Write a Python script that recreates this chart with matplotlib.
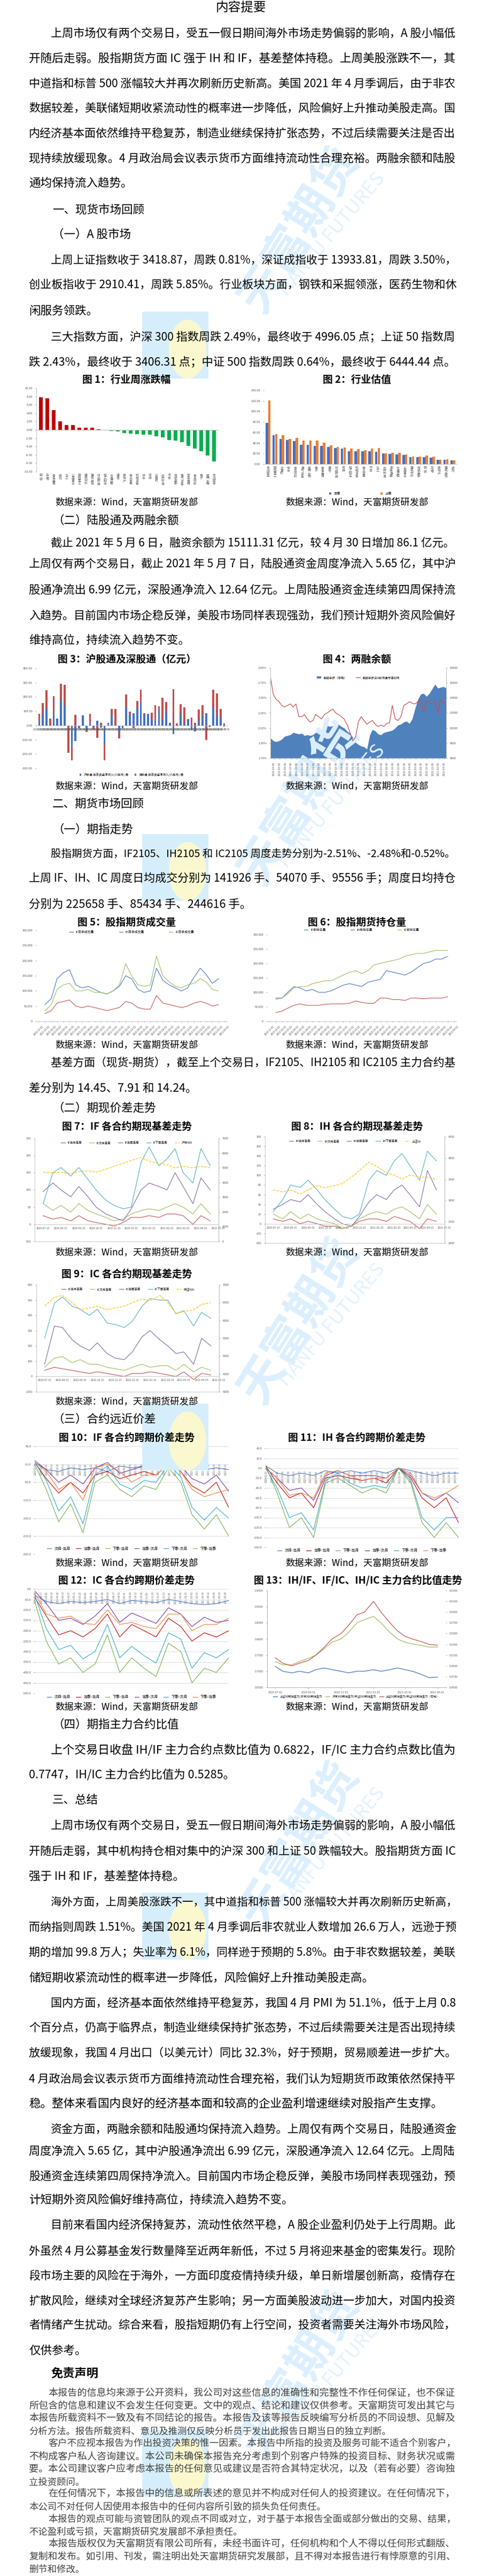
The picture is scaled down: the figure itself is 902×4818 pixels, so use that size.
import numpy as np
import pandas as pd
import matplotlib
matplotlib.use("Agg")
import matplotlib.pyplot as plt
import matplotlib.dates as mdates
from matplotlib.patches import Rectangle, Ellipse

plt.rcParams['font.family'] = ['Noto Sans CJK SC', 'DejaVu Sans']
plt.rcParams['axes.unicode_minus'] = False

W, H = 902, 4818
fig = plt.figure(figsize=(W / 100, H / 100), dpi=100)
fig.patch.set_facecolor('white')

# ---------------- data ----------------
ind1 = ['钢铁', '采掘', '有色金属', '银行', '化工', '公用事业', '国防军工', '建筑材料', '建筑装饰', '纺织服装',
        '轻工制造', '交通运输', '通信', '房地产', '商业贸易', '机械设备', '综合', '传媒', '计算机', '农林牧渔',
        '汽车', '非银金融', '电气设备', '家用电器', '食品饮料', '电子', '医药生物', '休闲服务']
chg1 = [7.8, 7.5, 4.7, 2.1, 1.2, 1.2, 0.5, 0.5, 0.5, 0.15, 0.0, -0.2, -0.4, -0.8, -0.9, -1.0, -1.1, -1.2,
        -1.6, -1.8, -2.4, -2.6, -3.0, -3.8, -4.5, -5.1, -6.1, -7.6]

ind2 = ['休闲服务', '国防军工', '计算机', '综合', '食品饮料', '电气设备', '医药生物', '电子', '有色金属', '通信',
        '纺织服装', '传媒', '轻工制造', '机械设备', '商业贸易', '汽车', '化工', '农林牧渔', '家用电器', '交通运输',
        '公用事业', '建筑材料', '非银金融', '钢铁', '采掘', '房地产', '建筑装饰', '银行']
pe_now = [78, 55, 48, 46, 44, 37, 37, 35, 34, 32, 30, 29, 24, 24, 24, 24, 23, 20, 19, 18, 17, 13, 13, 13, 12, 8, 8, 7]
pe_last = [121, 57, 55, 48, 50, 45, 45, 45, 41, 36, 32, 31, 29, 28, 26, 29, 30, 20, 21, 21, 18, 14, 14, 16, 14, 8, 9, 7]

hk_dates = ['2020-05-15', '2020-05-22', '2020-05-29', '2020-06-05', '2020-06-12', '2020-06-19', '2020-06-24',
            '2020-07-03', '2020-07-10', '2020-07-17', '2020-07-24', '2020-07-31', '2020-08-07', '2020-08-14',
            '2020-08-21', '2020-08-28', '2020-09-04', '2020-09-11', '2020-09-18', '2020-09-25', '2020-09-30',
            '2020-10-16', '2020-10-23', '2020-10-30', '2020-11-06', '2020-11-13', '2020-11-20', '2020-11-27',
            '2020-12-04', '2020-12-11', '2020-12-18', '2020-12-25', '2020-12-31', '2021-01-08', '2021-01-15',
            '2021-01-22', '2021-01-29', '2021-02-05', '2021-02-10', '2021-02-19', '2021-02-26', '2021-03-05',
            '2021-03-12', '2021-03-19', '2021-03-26', '2021-04-02', '2021-04-09', '2021-04-16', '2021-04-23',
            '2021-04-30', '2021-05-07', '2021-05-08']
hgt_flow = [30, 80, 120, 0, 90, 50, 180, 140, -5, -150, -110, -20, 70, -30, 20, -10, 35, -15, -130, 20,
            75, 5, -50, -20, 130, 75, 85, 120, 165, 75, 80, 50, 30, 105, 45, 100, 20, -60, 0, 80,
            20, 45, -30, -40, 30, 65, 85, -10, 125, 65, 55, -7]
sgt_flow = [50, 75, 125, 50, 115, 0, 110, 145, -185, -95, 75, 0, 0, -15, 60, -15, -85, 20, -115, 0,
            40, 110, -40, 0, 85, 20, -20, 50, 85, 10, 0, 40, 110, 30, 150, 65, 0, 255, 15, 70,
            105, 0, 55, 20, 80, 75, -100, 5, 125, 160, 60, 13]

mg_dates = pd.date_range('2016-03-01', '2021-05-01', freq='MS')
mg_bal = [8700, 8300, 8200, 8300, 8500, 8900, 9000, 9100, 9400, 9300, 9200, 9300, 9000, 9100, 9000, 9100, 9400,
          9600, 9800, 10000, 10300, 10200, 10300, 10200, 10500, 10200, 10000, 9600, 9300, 8800, 8100, 7800,
          7600, 7500, 7200, 9100, 9800, 9600, 9200, 9100, 9400, 9500, 9600, 9700, 10000, 10400, 10500, 10800,
          10900, 10600, 11200, 12600, 13800, 14500, 14600, 14200, 14600, 15200, 15800, 15300, 15400, 15500, 15300,
          15200][:len(mg_dates)]
mg_ratio = [2.78, 2.55, 2.48, 2.45, 2.40, 2.38, 2.40, 2.42, 2.38, 2.42, 2.25, 2.25, 2.28, 2.22, 2.18, 2.20,
            2.28, 2.25, 2.22, 2.28, 2.30, 2.33, 2.35, 2.30, 2.28, 2.25, 2.22, 2.15, 2.05, 1.93, 1.98, 2.18,
            2.25, 2.20, 2.15, 2.18, 2.20, 2.15, 2.12, 2.14, 2.12, 2.16, 2.17, 2.40, 2.22, 2.20, 2.25, 2.40,
            2.42, 2.45, 2.43, 2.42, 2.45, 2.48, 2.30, 2.46, 2.44, 2.42, 2.46, 2.30, 2.48, 2.44, 2.40][:len(mg_dates)]

fut_dates = pd.date_range('2019-01-01', periods=29, freq='MS')
if_vol = [55, 75, 140, 160, 170, 120, 110, 115, 105, 95, 90, 100, 115, 150, 140, 105, 95, 100, 175, 135, 120,
          110, 100, 110, 145, 175, 155, 125, 140]
ih_vol = [25, 35, 60, 65, 70, 50, 45, 50, 45, 40, 35, 40, 45, 65, 60, 45, 40, 40, 85, 60, 55, 50, 45, 50, 60,
          65, 60, 50, 55]
ic_vol = [35, 55, 105, 120, 125, 100, 100, 105, 95, 95, 90, 100, 120, 190, 150, 120, 115, 120, 215, 150, 130,
          115, 110, 120, 125, 140, 130, 105, 100]
if_oi = [80, 80, 100, 120, 115, 105, 110, 100, 100, 105, 115, 125, 130, 125, 120, 135, 140, 145, 175, 170, 165,
         160, 170, 185, 200, 205, 215, 215, 225]
ih_oi = [30, 35, 45, 55, 60, 55, 55, 55, 58, 60, 60, 60, 62, 70, 65, 62, 62, 80, 80, 75, 75, 72, 80, 80, 78,
         80, 80, 80, 85]
ic_oi = [75, 80, 95, 115, 120, 120, 130, 135, 140, 140, 150, 160, 170, 175, 165, 175, 195, 200, 205, 210, 215,
         225, 230, 235, 235, 240, 245, 245, 245]

b_dates = pd.date_range('2020-07-15', periods=20, freq='SMS-15')
if_b = [[25, 15, 20, 10, 25, 10, 5, 0, -5, 5, 20, 20, 25, 20, 30, 30, 25, 0, 25, 10],
        [60, 40, 55, 35, 60, 40, 30, 20, 10, 15, 30, 40, 45, 40, 50, 60, 50, 30, 60, 30],
        [95, 120, 100, 80, 110, 80, 50, 30, 20, 10, 45, 100, 120, 110, 100, 150, 110, 60, 135, 100],
        [60, 150, 165, 140, 165, 130, 100, 70, 55, 45, 50, 180, 225, 170, 190, 220, 150, 120, 220, 170]]
hs300 = [4700, 4650, 4700, 4600, 4750, 4800, 4700, 4900, 5100, 5300, 5500, 5700, 5450, 5300, 5200, 5000, 5100,
         5000, 5100, 5000]
ih_b = [[10, 5, 10, 0, 5, 0, -5, -5, -10, -5, 5, 10, 10, 5, 15, 10, 5, -10, 10, 5],
        [20, 10, 25, 10, 20, 10, 5, 0, -10, -5, 10, 20, 25, 20, 30, 35, 25, 10, 40, 20],
        [30, 40, 50, 45, 60, 40, 25, 10, 0, -5, 15, 45, 60, 50, 70, 80, 60, 35, 110, 70],
        [25, 50, 80, 75, 90, 70, 50, 30, 15, 10, 20, 90, 110, 100, 130, 145, 120, 90, 150, 130]]
sz50 = [3250, 3200, 3250, 3150, 3250, 3350, 3300, 3350, 3400, 3550, 3700, 3900, 3800, 3650, 3600, 3500, 3600,
        3550, 3550, 3500]
ic_b = [[40, 60, 50, 40, 30, 20, 30, 20, 10, 0, 20, 20, 30, 20, 10, 0, 30, -20, 20, 10],
        [60, 120, 130, 90, 110, 80, 80, 60, 50, 40, 60, 80, 60, 70, 70, 40, 80, 30, 60, 40],
        [80, 330, 320, 240, 200, 170, 220, 150, 120, 110, 160, 260, 300, 240, 200, 150, 160, 80, 250, 200],
        [250, 480, 520, 460, 440, 400, 440, 350, 340, 320, 360, 460, 510, 500, 500, 410, 430, 330, 420, 380]]
zz500 = [6400, 6650, 6700, 6500, 6300, 6350, 6400, 6300, 6350, 6400, 6500, 6600, 6550, 6700, 6500, 6200, 6250,
         6300, 6450, 6500]

s_dates = pd.date_range('2020-01-02', periods=17, freq='MS')
if_sp = [[-5, -25, -30, -20, -25, -20, -30, -15, -20, -15, -20, -10, -15, -20, -25, -20, -25],
         [-5, -50, -90, -60, -90, -40, -30, -50, -40, -30, -40, -10, -30, -70, -90, -60, -130],
         [-10, -80, -170, -120, -200, -60, -40, -80, -100, -70, -80, -20, -60, -150, -190, -150, -210],
         [0, -25, -60, -40, -65, -20, -5, -35, -25, -15, -20, 0, -15, -50, -65, -40, -85],
         [-5, -55, -140, -100, -175, -40, -15, -65, -80, -55, -60, -10, -45, -130, -165, -130, -160],
         [-5, -30, -80, -60, -110, -20, -10, -30, -60, -40, -40, -10, -30, -80, -100, -90, -80]]
ih_sp = [[5, -10, -15, -10, -15, -5, -10, -5, -10, -5, -10, 0, -5, -10, -15, -10, -10],
         [5, -30, -60, -50, -80, -20, -15, -20, -25, -20, -30, 0, -20, -60, -80, -60, -110],
         [5, -50, -120, -100, -140, -30, -20, -35, -50, -40, -50, 0, -30, -110, -140, -110, -140],
         [0, -20, -45, -40, -65, -15, -5, -15, -15, -15, -20, 0, -15, -50, -65, -50, -70],
         [0, -40, -100, -90, -125, -25, -10, -30, -40, -35, -40, 0, -25, -100, -125, -100, -100],
         [0, -20, -55, -50, -60, -10, -5, -15, -25, -20, -20, 0, -10, -50, -60, -50, -35]]
ic_sp = [[-30, -60, -70, -60, -65, -60, -50, -70, -55, -60, -65, -50, -60, -70, -75, -70, -55],
         [-40, -130, -220, -200, -230, -190, -120, -230, -170, -200, -230, -140, -180, -250, -210, -230, -200],
         [-60, -250, -360, -330, -400, -360, -220, -400, -330, -380, -420, -260, -300, -450, -380, -400, -330],
         [-10, -70, -150, -140, -170, -130, -70, -160, -115, -140, -165, -90, -120, -180, -135, -160, -150],
         [-30, -190, -290, -270, -335, -300, -170, -330, -275, -320, -355, -210, -240, -380, -305, -330, -290],
         [-20, -120, -140, -130, -165, -170, -100, -170, -160, -180, -190, -120, -120, -200, -170, -170, -140]]

r_dates = pd.date_range('2020-07-01', periods=21, freq='SMS')
ih_if = [0.715, 0.70, 0.695, 0.70, 0.695, 0.705, 0.71, 0.705, 0.70, 0.695, 0.70, 0.70, 0.705, 0.70, 0.705,
         0.71, 0.705, 0.70, 0.69, 0.68, 0.682]
if_ic = [0.73, 0.72, 0.72, 0.73, 0.74, 0.75, 0.77, 0.79, 0.80, 0.82, 0.85, 0.86, 0.87, 0.85, 0.82, 0.80, 0.79,
         0.785, 0.78, 0.775, 0.775]
ih_ic = [0.505, 0.495, 0.49, 0.495, 0.50, 0.51, 0.525, 0.54, 0.55, 0.565, 0.585, 0.59, 0.61, 0.59, 0.57,
         0.555, 0.545, 0.54, 0.535, 0.53, 0.5285]

# ---------------- helpers ----------------
GREY = '#595959'


def AX(x0, y0, x1, y1):
    return fig.add_axes([x0 / W, 1 - y1 / H, (x1 - x0) / W, (y1 - y0) / H])


def style(ax, fs=4.5):
    ax.tick_params(labelsize=fs, colors=GREY, length=1.5, width=0.4)
    for s in ['top', 'right']:
        ax.spines[s].set_visible(False)
    for s in ['left', 'bottom']:
        ax.spines[s].set_color('#bfbfbf')
        ax.spines[s].set_linewidth(0.6)


def T(x, y, s, size=15.5, **kw):
    kw.setdefault('va', 'center')
    return fig.text(x / W, 1 - y / H, s, fontsize=size, **kw)


def title(x, y, s):
    T(x, y, s, 13.5, ha='center', fontweight='bold')


def source(x, y):
    T(x, y, '数据来源：Wind，天富期货研发部', 12.5, ha='center')


# watermarks
for (wx, wy) in [(560, 430), (560, 1500), (560, 2470), (560, 3450), (560, 4440)]:
    T(wx, wy, '天富期货', 62, ha='center', color='#dcefff', rotation=58, zorder=0, fontweight='bold')
    T(wx + 60, wy + 10, 'TIANFU FUTURES', 26, ha='center', color='#e3f2ff', rotation=50, zorder=0)
for (lx, ly) in [(266, 583), (266, 1560), (266, 2625), (266, 3540), (266, 4545)]:
    fig.patches.append(Rectangle((lx / W, 1 - (ly + 125) / H), 124 / W, 125 / H, transform=fig.transFigure,
                                 facecolor='#d6eefc', edgecolor='none', zorder=0))
    fig.patches.append(Ellipse(((lx + 85) / W, 1 - (ly + 70) / H), 70 / W, 110 / H, transform=fig.transFigure,
                               facecolor='#fbf8cf', edgecolor='none', zorder=0))

# ---------------- text ----------------
justify = []


def para(lines, ys, indent=95, left=54, size=15.5, color='black'):
    for i, (s, y) in enumerate(zip(lines, ys)):
        t = T(indent if i == 0 else left, y, s, size, color=color)
        if i < len(lines) - 1:
            justify.append((t, indent if i == 0 else left))


T(451, 15, '内容提要', 17, ha='center')
para(['上周市场仅有两个交易日，受五一假日期间海外市场走势偏弱的影响，A 股小幅低',
      '开随后走弱。股指期货方面 IC 强于 IH 和 IF，基差整体持稳。上周美股涨跌不一，其',
      '中道指和标普 500 涨幅较大并再次刷新历史新高。美国 2021 年 4 月季调后，由于非农',
      '数据较差，美联储短期收紧流动性的概率进一步降低，风险偏好上升推动美股走高。国',
      '内经济基本面依然维持平稳复苏，制造业继续保持扩张态势，不过后续需要关注是否出',
      '现持续放缓现象。4 月政治局会议表示货币方面维持流动性合理充裕。两融余额和陆股',
      '通均保持流入趋势。'], [63, 110, 157, 203, 250, 296, 343])
T(98, 392, '一、现货市场回顾', 15.5)
T(98, 439, '（一）A 股市场', 15.5)
para(['上周上证指数收于 3418.87，周跌 0.81%，深证成指收于 13933.81，周跌 3.50%，',
      '创业板指收于 2910.41，周跌 5.85%。行业板块方面，钢铁和采掘领涨，医药生物和休',
      '闲服务领跌。'], [487, 534, 582])
para(['三大指数方面，沪深 300 指数周跌 2.49%，最终收于 4996.05 点；上证 50 指数周',
      '跌 2.43%，最终收于 3406.31 点；中证 500 指数周跌 0.64%，最终收于 6444.44 点。'], [630, 677])
justify.append((fig.texts[-1], 54))
T(98, 974, '（二）陆股通及两融余额', 15.5)
para(['截止 2021 年 5 月 6 日，融资余额为 15111.31 亿元，较 4 月 30 日增加 86.1 亿元。',
      '上周仅有两个交易日，截止 2021 年 5 月 7 日，陆股通资金周度净流入 5.65 亿，其中沪',
      '股通净流出 6.99 亿元，深股通净流入 12.64 亿元。上周陆股通资金连续第四周保持流',
      '入趋势。目前国内市场企稳反弹，美股市场同样表现强劲，我们预计短期外资风险偏好',
      '维持高位，持续流入趋势不变。'], [1017, 1056, 1104, 1151, 1198])
T(98, 1504, '二、期货市场回顾', 15.5)
T(98, 1552, '（一）期指走势', 15.5)
para(['股指期货方面，IF2105、IH2105 和 IC2105 周度走势分别为-2.51%、-2.48%和-0.52%。',
      '上周 IF、IH、IC 周度日均成交分别为 141926 手、54070 手、95556 手；周度日均持仓',
      '分别为 225658 手、85434 手、244616 手。'], [1597, 1643, 1692])
para(['基差方面（现货-期货），截至上个交易日，IF2105、IH2105 和 IC2105 主力合约基',
      '差分别为 14.45、7.91 和 14.24。'], [1988, 2036])
T(98, 2073, '（二）期现价差走势', 15.5)
T(98, 2655, '（三）合约远近价差', 15.5)
T(98, 3226, '（四）期指主力合约比值', 15.5)
para(['上个交易日收盘 IH/IF 主力合约点数比值为 0.6822，IF/IC 主力合约点数比值为',
      '0.7747，IH/IC 主力合约比值为 0.5285。'], [3274, 3320])
T(98, 3367, '三、总结', 15.5)
para(['上周市场仅有两个交易日，受五一假日期间海外市场走势偏弱的影响，A 股小幅低',
      '开随后走弱，其中机构持仓相对集中的沪深 300 和上证 50 跌幅较大。股指期货方面 IC',
      '强于 IH 和 IF，基差整体持稳。'], [3415, 3463, 3510])
para(['海外方面，上周美股涨跌不一，其中道指和标普 500 涨幅较大并再次刷新历史新高，',
      '而纳指则周跌 1.51%。美国 2021 年 4 月季调后非农就业人数增加 26.6 万人，远逊于预',
      '期的增加 99.8 万人；失业率为 6.1%，同样逊于预期的 5.8%。由于非农数据较差，美联',
      '储短期收紧流动性的概率进一步降低，风险偏好上升推动美股走高。'], [3558, 3605, 3652, 3700])
para(['国内方面，经济基本面依然维持平稳复苏，我国 4 月 PMI 为 51.1%，低于上月 0.8',
      '个百分点，仍高于临界点，制造业继续保持扩张态势，不过后续需要关注是否出现持续',
      '放缓现象，我国 4 月出口（以美元计）同比 32.3%，好于预期，贸易顺差进一步扩大。',
      '4 月政治局会议表示货币方面维持流动性合理充裕，我们认为短期货币政策依然保持平',
      '稳。整体来看国内良好的经济基本面和较高的企业盈利增速继续对股指产生支撑。'],
     [3747, 3793, 3840, 3888, 3935])
para(['资金方面，两融余额和陆股通均保持流入趋势。上周仅有两个交易日，陆股通资金',
      '周度净流入 5.65 亿，其中沪股通净流出 6.99 亿元，深股通净流入 12.64 亿元。上周陆',
      '股通资金连续第四周保持净流入。目前国内市场企稳反弹，美股市场同样表现强劲，预',
      '计短期外资风险偏好维持高位，持续流入趋势不变。'], [3983, 4025, 4070, 4115])
para(['目前来看国内经济保持复苏，流动性依然平稳，A 股企业盈利仍处于上行周期。此',
      '外虽然 4 月公募基金发行数量降至近两年新低，不过 5 月将迎来基金的密集发行。现阶',
      '段市场主要的风险在于海外，一方面印度疫情持续升级，单日新增屡创新高，疫情存在',
      '扩散风险，继续对全球经济复苏产生影响；另一方面美股波动进一步加大，对国内投资',
      '者情绪产生扰动。综合来看，股指短期仍有上行空间，投资者需要关注海外市场风险，',
      '仅供参考。'], [4162, 4210, 4257, 4303, 4350, 4397])
T(96, 4440, '免责声明', 16, fontweight='bold')
DC = '#404040'
dsz = 12.5
para(['本报告的信息均来源于公开资料，我公司对这些信息的准确性和完整性不作任何保证，也不保证',
      '所包含的信息和建议不会发生任何变更。文中的观点、结论和建议仅供参考。天富期货可发出其它与',
      '本报告所载资料不一致及有不同结论的报告。本报告及该等报告反映编写分析员的不同设想、见解及',
      '分析方法。报告所载资料、意见及推测仅反映分析员于发出此报告日期当日的独立判断。'],
     [4477, 4500, 4523, 4547], indent=90, size=dsz, color=DC)
para(['客户不应视本报告为作出投资决策的惟一因素。本报告中所指的投资及服务可能不适合个别客户，',
      '不构成客户私人咨询建议。本公司未确保本报告充分考虑到个别客户特殊的投资目标、财务状况或需',
      '要。本公司建议客户应考虑本报告的任何意见或建议是否符合其特定状况，以及（若有必要）咨询独',
      '立投资顾问。'], [4570, 4595, 4618, 4642], indent=90, size=dsz, color=DC)
para(['在任何情况下，本报告中的信息或所表述的意见并不构成对任何人的投资建议。在任何情况下，',
      '本公司不对任何人因使用本报告中的任何内容所引致的损失负任何责任。'], [4665, 4688], indent=90, size=dsz, color=DC)
para(['本报告的观点可能与资管团队的观点不同或对立，对于基于本报告全面或部分做出的交易、结果，',
      '不论盈利或亏损，天富期货研究发展部不承担责任。'], [4712, 4735], indent=90, size=dsz, color=DC)
para(['本报告版权仅为天富期货有限公司所有，未经书面许可，任何机构和个人不得以任何形式翻版、',
      '复制和发布。如引用、刊发，需注明出处天富期货研究发展部，且不得对本报告进行有悖原意的引用、',
      '删节和修改。'], [4758, 4782, 4805], indent=90, size=dsz, color=DC)

# ---------------- charts ----------------
# Fig 1
title(237, 710, '图 1：行业周涨跌幅')
ax = AX(68, 726, 409, 882)
cols = ['#C00000' if v >= 0 else '#00B050' for v in chg1]
x = np.arange(len(ind1))
ax.bar(x, chg1, width=0.55, color=cols)
ax.axhline(0, color='#bfbfbf', lw=0.8)
ax.set_ylim(-10, 10)
ax.set_yticks(np.arange(-10, 11, 2))
ax.set_yticklabels(['%.2f' % v for v in np.arange(-10, 11, 2)])
ax.set_xticks(x)
ax.set_xticklabels(['\n'.join(s) for s in ind1], va='top', linespacing=0.95)
ax.set_xlim(-0.7, len(ind1) - 0.3)
style(ax, 4.2)
ax.spines['bottom'].set_visible(False)
ax.tick_params(axis='x', length=0)
source(237, 939)

# Fig 2
title(668, 710, '图 2：行业估值')
ax = AX(494, 730, 855, 868)
x = np.arange(len(ind2))
ax.bar(x - 0.19, pe_now, width=0.36, color='#4472C4', label='本周')
ax.bar(x + 0.19, pe_last, width=0.36, color='#ED7D31', label='上周')
ax.set_ylim(0, 140)
ax.set_yticks(np.arange(0, 141, 20))
ax.set_yticklabels(['%.2f' % v for v in np.arange(0, 141, 20)])
ax.set_xticks(x)
ax.set_xticklabels(['\n'.join(s) for s in ind2], va='top', linespacing=0.95)
ax.set_xlim(-0.6, len(ind2) - 0.4)
style(ax, 4.2)
ax.spines['left'].set_visible(False)
ax.tick_params(axis='x', length=0)
ax.legend(loc='upper center', bbox_to_anchor=(0.5, -0.33), ncol=2, fontsize=4.5, frameon=False,
          columnspacing=12, handlelength=0.6, handleheight=0.6)
source(668, 939)

# Fig 3
title(237, 1233, '图 3：沪股通及深股通（亿元）')
ax = AX(68, 1250, 425, 1437)
x = np.arange(len(hk_dates))
hg = np.array(hgt_flow, float)
sg = np.array(sgt_flow, float)
ax.bar(x, hg, width=0.55, color='#4472C4', label='沪股通:当日资金净流入(人民币)-周')
bottom = np.where(np.sign(sg) == np.sign(hg), hg, 0)
ax.bar(x, sg, bottom=bottom, width=0.55, color='#C0504D', label='深股通:当日资金净流入(人民币)-周')
ax.set_ylim(-300, 400)
ax.set_yticks(np.arange(-300, 401, 100))
ax.set_yticklabels(['%.2f' % v for v in np.arange(-300, 401, 100)])
ax.set_xticks(x)
ax.set_xticklabels(hk_dates, rotation=90, fontsize=3.2)
ax.set_xlim(-0.8, len(x) - 0.2)
style(ax, 4.2)
ax.spines['left'].set_visible(False)
ax.spines['bottom'].set_position(('data', 0))
ax.tick_params(axis='x', length=0, labelsize=3.2)
ax.legend(loc='upper center', bbox_to_anchor=(0.5, -0.02), ncol=2, fontsize=4, frameon=False,
          handlelength=0.6, handleheight=0.6)
source(237, 1470)

# Fig 4
title(668, 1233, '图 4：两融余额')
ax = AX(506, 1249, 835, 1418)
ax2 = ax.twinx()
ax2.fill_between(mg_dates, 6000, mg_bal, color='#4F81BD', label='融资余额（右轴）', lw=0)
ax2.set_ylim(6000, 18000)
ax2.set_yticks(np.arange(6000, 18001, 2000))
ax.plot(mg_dates, mg_ratio, color='#C0504D', lw=0.9, label='融资余额占A股流通市值比例')
ax.set_ylim(1.7, 2.9)
ax.set_yticks(np.arange(1.7, 2.91, 0.2))
ax.set_yticklabels(['%.2f%%' % v for v in np.arange(1.7, 2.91, 0.2)])
ax.set_zorder(ax2.get_zorder() + 1)
ax.patch.set_visible(False)
ax.set_xlim(mg_dates[0], mg_dates[-1])
ax.xaxis.set_major_locator(mdates.MonthLocator(bymonth=[2, 4, 6, 8, 10, 12], bymonthday=8))
ax.xaxis.set_major_formatter(mdates.DateFormatter('%Y-%m-08'))
for a in (ax, ax2):
    style(a, 4)
ax2.spines['right'].set_visible(True)
ax2.spines['right'].set_color('#bfbfbf')
ax.tick_params(axis='x', rotation=90, labelsize=3.6)
h1, l1 = ax2.get_legend_handles_labels()
h2, l2 = ax.get_legend_handles_labels()
ax.legend(h1 + h2, l1 + l2, loc='upper center', ncol=2, fontsize=4, frameon=False, bbox_to_anchor=(0.5, 0.94),
          handlelength=1.5, columnspacing=3)
source(668, 1470)

# Fig 5
title(237, 1725, '图 5：股指期货成交量')
ax = AX(68, 1740, 425, 1910)
ax.plot(fut_dates, np.array(if_vol) * 1000, color='#4472C4', lw=0.8, label='IF日总成交量')
ax.plot(fut_dates, np.array(ih_vol) * 1000, color='#C0504D', lw=0.8, label='IH日总成交量')
ax.plot(fut_dates, np.array(ic_vol) * 1000, color='#9BBB59', lw=0.8, label='IC日总成交量')
ax.set_ylim(0, 300000)
ax.yaxis.set_major_formatter(matplotlib.ticker.FuncFormatter(lambda v, p: '{:,.0f}'.format(v)))
ax.xaxis.set_major_locator(mdates.MonthLocator())
ax.xaxis.set_major_formatter(mdates.DateFormatter('%Y-%m-02'))
style(ax, 4)
ax.spines['left'].set_visible(False)
ax.tick_params(axis='x', rotation=45, labelsize=3.4)
ax.legend(loc='upper center', ncol=3, fontsize=4.2, frameon=False, bbox_to_anchor=(0.5, 1.03), columnspacing=8,
          handlelength=1.2)
source(237, 1954)

# Fig 6
title(668, 1725, '图 6：股指期货持仓量')
ax = AX(500, 1748, 854, 1910)
ax.plot(fut_dates, np.array(if_oi) * 1000, color='#4472C4', lw=0.8, label='IF总持仓量')
ax.plot(fut_dates, np.array(ih_oi) * 1000, color='#C0504D', lw=0.8, label='IH总持仓量')
ax.plot(fut_dates, np.array(ic_oi) * 1000, color='#9BBB59', lw=0.8, label='IC总持仓量')
ax.set_ylim(0, 300000)
ax.yaxis.set_major_formatter(matplotlib.ticker.FuncFormatter(lambda v, p: '{:,.0f}'.format(v)))
ax.xaxis.set_major_locator(mdates.MonthLocator())
ax.xaxis.set_major_formatter(mdates.DateFormatter('%Y-%m-02'))
style(ax, 4)
ax.spines['left'].set_visible(False)
ax.tick_params(axis='x', rotation=45, labelsize=3.4)
ax.legend(loc='upper center', ncol=3, fontsize=4.2, frameon=False, bbox_to_anchor=(0.5, 1.1), columnspacing=8,
          handlelength=1.2)
source(668, 1954)

BCOL = ['#C0504D', '#9BBB59', '#8064A2', '#4BACC6']


def basis_chart(box, series, idx, names, idxname, ylim, step, rlim, rstep, ttl, tx, ty, sy):
    title(tx, ty, ttl)
    ax = AX(*box)
    for s, c, n in zip(series, BCOL, names):
        ax.plot(b_dates, s, color=c, lw=0.8, label=n)
    ax.set_ylim(*ylim)
    ticks = np.arange(ylim[0], ylim[1] + 1, step)
    ax.set_yticks(ticks)
    labs = ['(%d)' % -v if v < 0 else '%d' % v for v in ticks]
    ax.set_yticklabels(labs)
    ax.get_yticklabels()[0].set_color('red')
    ax.spines['bottom'].set_position(('data', 0))
    ax.xaxis.set_major_locator(mdates.MonthLocator(bymonthday=15))
    ax.xaxis.set_major_formatter(mdates.DateFormatter('%Y-%m-15'))
    style(ax, 4)
    ax.spines['left'].set_visible(False)
    ax.tick_params(axis='x', length=0, labelsize=3.6)
    ax2 = ax.twinx()
    ax2.plot(b_dates, idx, color='#FFC000', lw=0.9, ls='--', label=idxname)
    ax2.set_ylim(*rlim)
    ax2.set_yticks(np.arange(rlim[0], rlim[1] + 1, rstep))
    style(ax2, 4)
    ax2.spines['right'].set_visible(True)
    ax2.spines['right'].set_color('#bfbfbf')
    h1, l1 = ax.get_legend_handles_labels()
    h2, l2 = ax2.get_legend_handles_labels()
    ax.legend(h1 + h2, l1 + l2, loc='upper center', ncol=5, fontsize=4, frameon=False, bbox_to_anchor=(0.5, 1.0),
              columnspacing=2.5, handlelength=1.5)
    source(tx, sy)


basis_chart((65, 2129, 409, 2322), if_b, hs300, ['IF当月基差', 'IF次月基差', 'IF当季基差', 'IF下季基差'], '沪深300',
            (-50, 250), 50, (0, 7000), 1000, '图 7：IF 各合约期现基差走势', 237, 2107, 2342)
basis_chart((496, 2126, 832, 2325), ih_b, sz50, ['IH当月基差', 'IH次月基差', 'IH当季基差', 'IH下季基差'], '上证50',
            (-40, 180), 20, (2000, 4500), 500, '图 8：IH 各合约期现基差走势', 668, 2107, 2342)
basis_chart((68, 2403, 410, 2603), ic_b, zz500, ['IC当月基差', 'IC次月基差', 'IC当季基差', 'IC下季基差'], '中证500',
            (-100, 600), 100, (4000, 7000), 500, '图 9：IC 各合约期现基差走势', 237, 2383, 2621)

SCOL = ['#4472C4', '#C00000', '#70AD47', '#7030A0', '#2BA6C9', '#ED7D31']
SNAMES = ['次月-当月', '当季-当月', '下季-当月', '当季-次月', '下季-次月', '下季-当季']


def spread_chart(box, series, ylim, step, ttl, tx, ty, sy, lg_y):
    title(tx, ty, ttl)
    ax = AX(*box)
    for s, c, n in zip(series, SCOL, SNAMES):
        ax.plot(s_dates, s, color=c, lw=0.8, label=n)
    ax.set_ylim(*ylim)
    ax.set_yticks(np.arange(ylim[0], ylim[1] + 1, step))
    ax.yaxis.set_major_formatter(matplotlib.ticker.FormatStrFormatter('%.1f'))
    ax.grid(axis='y', color='#d9d9d9', lw=0.6)
    ax.set_axisbelow(True)
    ax.spines['bottom'].set_position(('data', 0))
    ax.xaxis.set_major_locator(mdates.DayLocator(interval=14))
    ax.xaxis.set_major_formatter(mdates.DateFormatter('%Y-%m-%d'))
    ax.set_xlim(s_dates[0], s_dates[-1])
    style(ax, 4)
    ax.spines['left'].set_visible(False)
    ax.spines['bottom'].set_visible(False)
    ax.tick_params(axis='x', length=0, rotation=90, labelsize=3.2)
    ax.legend(loc='lower center', ncol=6, fontsize=5, frameon=False, bbox_to_anchor=(0.5, lg_y),
              columnspacing=1.5, handlelength=1.2)
    source(tx, sy)


spread_chart((65, 2705, 428, 2907), if_sp, (-260, 40), 50, '图 10：IF 各合约跨期价差走势', 237, 2689, 2923, 0.0)
spread_chart((497, 2709, 858, 2894), ih_sp, (-160, 40), 20, '图 11：IH 各合约跨期价差走势', 668, 2689, 2923, -0.09)
spread_chart((65, 2972, 428, 3167), ic_sp, (-500, 0), 50, '图 12：IC 各合约跨期价差走势', 237, 2956, 3192, -0.09)

# Fig 13
title(670, 2956, '图 13：IH/IF、IF/IC、IH/IC 主力合约比值走势')
ax = AX(500, 2975, 834, 3156)
ax.plot(r_dates, ih_if, color='#4472C4', lw=0.9, label='上证50期指主力/沪深300期指主力')
ax.plot(r_dates, if_ic, color='#9BBB59', lw=0.9, label='沪深300期指主力/中证500期指主力')
ax.set_ylim(0.65, 0.95)
ax.set_yticks(np.arange(0.65, 0.951, 0.05))
ax.yaxis.set_major_formatter(matplotlib.ticker.FormatStrFormatter('%.4f'))
ax.xaxis.set_major_locator(mdates.MonthLocator(bymonth=[7, 9, 11, 1, 3, 5]))
ax.xaxis.set_major_formatter(mdates.DateFormatter('%Y-%m-%d'))
ax2 = ax.twinx()
ax2.plot(r_dates, ih_ic, color='#C0504D', lw=0.9, label='上证50期指主力/中证500期指主力（右轴）')
ax2.set_ylim(0.45, 0.63)
ax2.set_yticks(np.arange(0.45, 0.631, 0.02))
ax2.yaxis.set_major_formatter(matplotlib.ticker.FormatStrFormatter('%.4f'))
style(ax, 3.8)
style(ax2, 3.8)
ax.spines['bottom'].set_color('#404040')
ax.spines['left'].set_color('#404040')
h1, l1 = ax.get_legend_handles_labels()
h2, l2 = ax2.get_legend_handles_labels()
ax.legend(h1 + h2, l1 + l2, loc='upper center', ncol=3, fontsize=3.8, frameon=False, bbox_to_anchor=(0.5, -0.05),
          columnspacing=1.2, handlelength=1.5)
source(668, 3192)

# ---------------- justify text lines ----------------
fig.canvas.draw()
r = fig.canvas.get_renderer()
for t, x0 in justify:
    w = t.get_window_extent(r).width
    target = 853 - x0
    if w > 0:
        f = target / w
        f = min(max(f, 0.8), 1.2)
        t.set_fontsize(t.get_fontsize() * f)

fig.savefig('out.png', dpi=100, facecolor='white')
